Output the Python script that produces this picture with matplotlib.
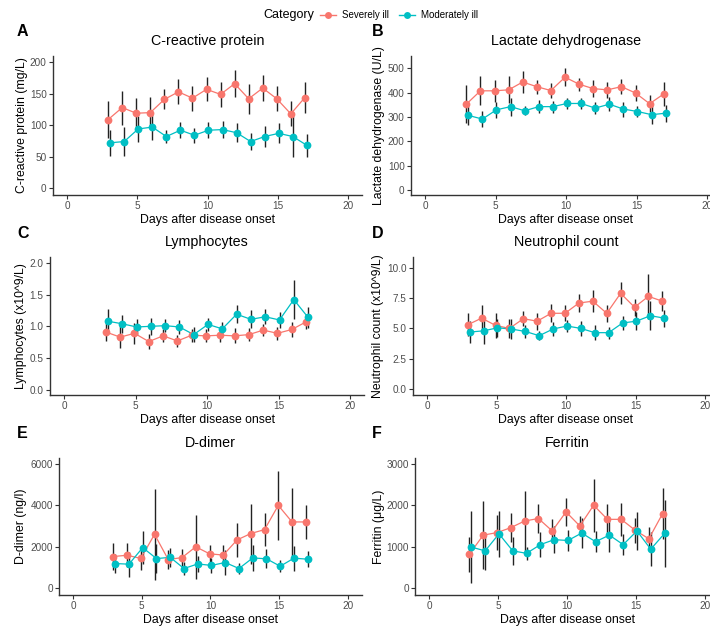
import matplotlib
matplotlib.use('Agg')
import matplotlib.pyplot as plt
from matplotlib.lines import Line2D
import numpy as np

plt.rcParams['font.family'] = ['Liberation Sans', 'DejaVu Sans']

days = np.arange(3, 18)
red, cyan = '#F8766D', '#00BFC4'

# C-reactive protein (mg/L)
crp_sev = [109, 128, 119, 120, 141, 153, 143, 157, 149, 166, 142, 159, 142, 118, 144]
crp_sev_err = [30, 27, 24, 25, 16, 20, 20, 19, 20, 21, 24, 20, 20, 20, 25]
crp_mod = [72, 74, 94, 97, 82, 92, 84, 92, 93, 88, 74, 82, 87, 82, 68]
crp_mod_err = [21, 23, 21, 20, 10, 13, 12, 13, 14, 15, 14, 16, 16, 33, 18]

# Lactate dehydrogenase (U/L)
ldh_sev = [352, 407, 407, 411, 443, 424, 408, 463, 434, 416, 411, 424, 398, 354, 394]
ldh_sev_err = [78, 60, 46, 55, 44, 29, 30, 36, 27, 35, 33, 30, 33, 35, 49]
ldh_mod = [306, 291, 329, 342, 325, 342, 342, 355, 355, 336, 352, 332, 322, 309, 315]
ldh_mod_err = [38, 32, 32, 37, 18, 28, 25, 21, 24, 26, 29, 31, 22, 40, 35]

# Lymphocytes (x10^9/L)
lym_sev = [0.91, 0.83, 0.89, 0.76, 0.85, 0.77, 0.86, 0.85, 0.86, 0.85, 0.87, 0.94, 0.89, 0.95, 1.07]
lym_sev_err = [0.14, 0.17, 0.17, 0.12, 0.10, 0.10, 0.10, 0.10, 0.10, 0.12, 0.10, 0.10, 0.10, 0.12, 0.12]
lym_mod = [1.08, 1.04, 0.99, 1.00, 1.01, 0.99, 0.87, 1.03, 0.96, 1.19, 1.11, 1.15, 1.10, 1.42, 1.14]
lym_mod_err = [0.19, 0.14, 0.13, 0.13, 0.10, 0.11, 0.12, 0.10, 0.11, 0.14, 0.14, 0.12, 0.13, 0.31, 0.17]

# Neutrophil count (x10^9/L)
neu_sev = [5.3, 5.85, 5.25, 5.0, 5.8, 5.6, 6.25, 6.25, 7.1, 7.25, 6.25, 7.9, 6.75, 7.65, 7.25]
neu_sev_err = [0.95, 1.05, 1.0, 0.8, 0.6, 0.7, 0.75, 0.65, 0.75, 0.9, 0.7, 0.9, 0.7, 1.85, 0.85]
neu_mod = [4.7, 4.8, 5.05, 4.95, 4.75, 4.4, 4.95, 5.2, 5.0, 4.65, 4.65, 5.45, 5.6, 6.05, 5.85]
neu_mod_err = [0.9, 1.05, 0.75, 0.8, 0.5, 0.35, 0.6, 0.5, 0.6, 0.6, 0.5, 0.6, 0.75, 1.2, 0.7]

# D-dimer (ng/l)
dd_sev = [1530, 1590, 1440, 2600, 1380, 1480, 2000, 1660, 1600, 2330, 2640, 2830, 4000, 3200, 3200]
dd_sev_err = [630, 580, 550, 2200, 450, 400, 1550, 420, 500, 800, 1450, 780, 1650, 1650, 800]
dd_mod = [1190, 1160, 1960, 1430, 1490, 950, 1170, 1100, 1240, 950, 1460, 1420, 1060, 1450, 1400]
dd_mod_err = [450, 600, 800, 700, 450, 300, 400, 350, 600, 250, 650, 450, 300, 600, 400]

# Ferritin (ug/L)
fer_sev = [820, 1280, 1340, 1460, 1620, 1680, 1380, 1840, 1500, 2000, 1660, 1660, 1400, 1190, 1800]
fer_sev_err = [420, 820, 430, 350, 720, 350, 280, 340, 250, 640, 360, 390, 300, 280, 610]
fer_mod = [990, 900, 1310, 900, 840, 1050, 1170, 1150, 1330, 1120, 1280, 1050, 1380, 940, 1320]
fer_mod_err = [860, 460, 550, 330, 150, 310, 320, 250, 370, 250, 400, 250, 450, 410, 810]

W, H = 710, 628
fig = plt.figure(figsize=(W/100, H/100), dpi=100)

# letter, title, ylabel, data, ylim, yticks, ticklabels,
# pixel box (day 0, day 20, top, bottom), ylabel x centre, xlabel y centre
panels = [
    ('A', 'C-reactive protein', 'C-reactive protein (mg/L)', crp_sev, crp_sev_err, crp_mod, crp_mod_err,
     (-11, 210), [0, 50, 100, 150, 200], None, (67, 348, 56, 195), 22, 220),
    ('B', 'Lactate dehydrogenase', 'Lactate dehydrogenase (U/L)', ldh_sev, ldh_sev_err, ldh_mod, ldh_mod_err,
     (-21, 550), [0, 100, 200, 300, 400, 500], None, (425, 707, 56, 195), 379, 220),
    ('C', 'Lymphocytes', 'Lymphocytes (x10^9/L)', lym_sev, lym_sev_err, lym_mod, lym_mod_err,
     (-0.08, 2.09), [0, 0.5, 1.0, 1.5, 2.0], ['0.0', '0.5', '1.0', '1.5', '2.0'], (64, 350, 257, 395), 21, 420),
    ('D', 'Neutrophil count', 'Neutrophil count (x10^9/L)', neu_sev, neu_sev_err, neu_mod, neu_mod_err,
     (-0.5, 10.9), [0, 2.5, 5, 7.5, 10], ['0.0', '2.5', '5.0', '7.5', '10.0'], (427, 705, 257, 395), 378, 420),
    ('E', 'D-dimer', 'D-dimer (ng/l)', dd_sev, dd_sev_err, dd_mod, dd_mod_err,
     (-330, 6290), [0, 2000, 4000, 6000], None, (73, 348, 458, 595), 21, 620),
    ('F', 'Ferritin', 'Ferritin (\u03bcg/L)', fer_sev, fer_sev_err, fer_mod, fer_mod_err,
     (-165, 3140), [0, 1000, 2000, 3000], None, (429, 705, 458, 595), 379, 620),
]

tick_col = '#4D4D4D'
for letter, title, ylab, sev, sev_e, mod, mod_e, ylim, yt, ytl, box, ylx, xly in panels:
    x0, x20, top, bot = box
    u = (x20 - x0) / 20
    left, right = x0 - u, x20 + u
    ax = fig.add_axes([left/W, 1 - bot/H, (right-left)/W, (bot-top)/H])
    for y, e, c, dx in [(sev, sev_e, red, -0.07), (mod, mod_e, cyan, 0.07)]:
        ax.errorbar(days + dx, y, yerr=e, fmt='none', ecolor='#222222', elinewidth=1.0, capsize=0, zorder=2)
        ax.plot(days + dx, y, '-', color=c, lw=0.9, zorder=3)
        ax.plot(days + dx, y, 'o', color=c, ms=5.6, mec='none', zorder=4)
    ax.set_xlim(-1, 21)
    ax.set_ylim(*ylim)
    ax.set_xticks([0, 5, 10, 15, 20])
    ax.set_yticks(yt)
    if ytl:
        ax.set_yticklabels(ytl)
    for s in ['top', 'right']:
        ax.spines[s].set_visible(False)
    for s in ['left', 'bottom']:
        ax.spines[s].set_color('#333333')
        ax.spines[s].set_linewidth(1.0)
    ax.tick_params(colors='#333333', labelcolor=tick_col, labelsize=7.2, length=3, width=0.8, pad=1.5)
    ax.set_title(title, fontsize=10.3, pad=8)
    ax.set_xlabel('Days after disease onset', fontsize=8.8, va='center')
    ax.xaxis.set_label_coords((left + right) / 2 / W, 1 - xly / H, transform=fig.transFigure)
    ax.set_ylabel(ylab, fontsize=8.8, va='center')
    ax.yaxis.set_label_coords(ylx / W, 1 - (top + bot) / 2 / H, transform=fig.transFigure)
    fig.text((17 if x0 < 200 else 372)/W, 1 - (top - 24)/H, letter, fontsize=11.5, fontweight='bold',
             va='center', ha='left')

# legend
fig.text(263/W, 1 - 15/H, 'Category', fontsize=9, va='center', ha='left')
handles = [Line2D([], [], color=red, marker='o', ms=5, lw=1, mec='none'),
           Line2D([], [], color=cyan, marker='o', ms=5, lw=1, mec='none')]
fig.legend(handles, ['Severely ill', 'Moderately ill'], loc='center left',
           bbox_to_anchor=(315/W, 1 - 15/H), ncol=2, frameon=False, fontsize=7,
           handlelength=1.7, handletextpad=0.6, columnspacing=1.0, borderpad=0)

fig.savefig('out.png', dpi=100)
